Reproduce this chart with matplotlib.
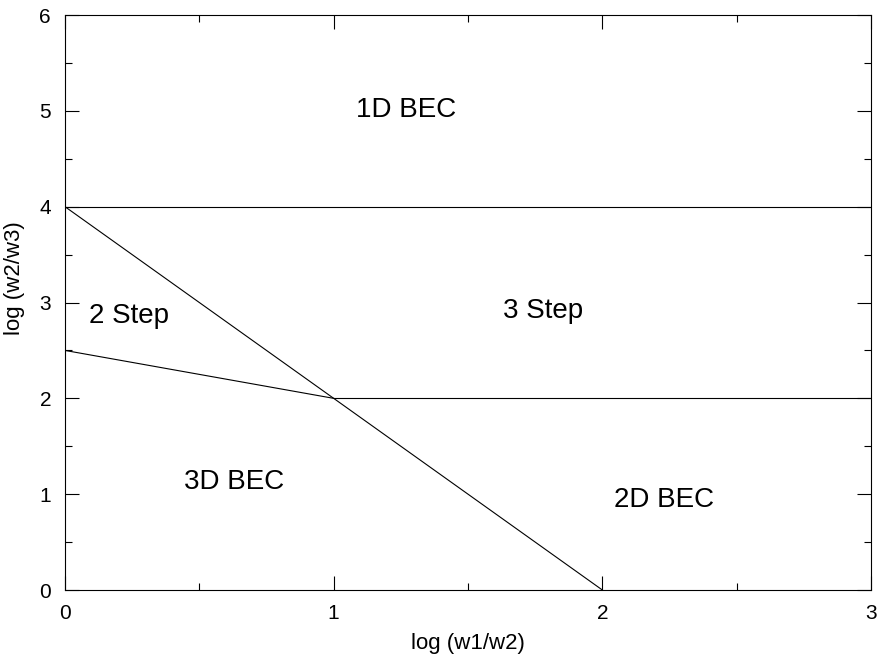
#!/usr/bin/env python3

import numpy as np
import matplotlib.pyplot as plt
from matplotlib.ticker import MultipleLocator

plt.rcParams['font.family'] = ['Liberation Sans', 'DejaVu Sans']

# phase boundaries (x = log(w1/w2), y = log(w2/w3))
top_x = [0.0, 3.0]
top_y = [4.0, 4.0]
mid_x = [1.0, 3.0]
mid_y = [2.0, 2.0]
kink_x = [0.0, 1.0]
kink_y = [2.5, 2.0]
diag_x = [0.0, 2.0]
diag_y = [4.0, 0.0]

regions = ['1D BEC', '3 Step', '2 Step', '3D BEC', '2D BEC']
reg_x = [1.27, 1.78, 0.24, 0.63, 2.23]
reg_y = [5.01, 2.91, 2.86, 1.13, 0.94]

fig = plt.figure(figsize=(8.77, 6.59), dpi=100)
ax = fig.add_axes([0.0741, 0.1047, 0.9191, 0.8725])

for xs, ys in [(top_x, top_y), (mid_x, mid_y), (kink_x, kink_y), (diag_x, diag_y)]:
    ax.plot(xs, ys, c='black', lw=0.8)

for name, x, y in zip(regions, reg_x, reg_y):
    ax.text(x, y, name, fontsize=20, ha='center', va='center')

ax.set_xlim(0, 3)
ax.set_ylim(0, 6)
ax.xaxis.set_major_locator(MultipleLocator(1))
ax.xaxis.set_minor_locator(MultipleLocator(0.5))
ax.yaxis.set_major_locator(MultipleLocator(1))
ax.yaxis.set_minor_locator(MultipleLocator(0.5))
ax.tick_params(which='both', direction='in', top=True, right=True,
               width=0.8, labelsize=15)
ax.tick_params(which='major', length=10, pad=10)
ax.tick_params(which='minor', length=5)
for s in ax.spines.values():
    s.set_linewidth(0.8)

ax.set_xlabel('log (w1/w2)', fontsize=16)
ax.set_ylabel('log (w2/w3)', fontsize=16)
ax.xaxis.set_label_coords(0.5, -0.075)
ax.yaxis.set_label_coords(-0.05, 0.543)

fig.savefig('out.png', dpi=100)
